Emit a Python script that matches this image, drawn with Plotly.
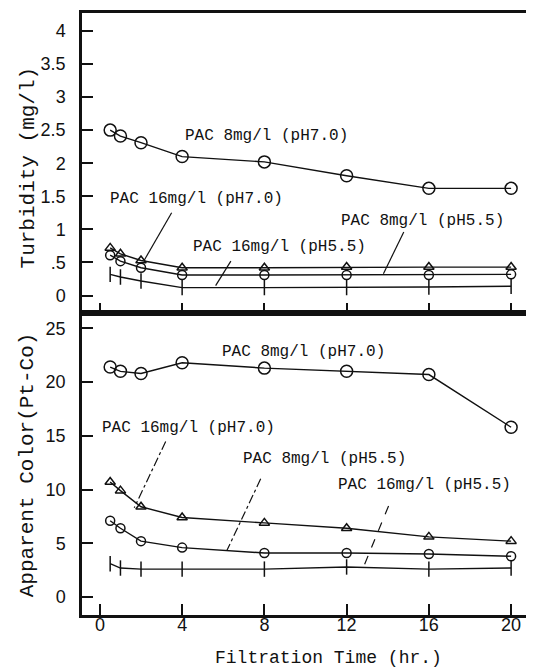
import plotly.graph_objects as go
from plotly.subplots import make_subplots

# ---------------- data ----------------
time_hr = [0.5, 1, 2, 4, 8, 12, 16, 20]

turb_pac8_ph70 = [2.50, 2.41, 2.31, 2.10, 2.02, 1.81, 1.62, 1.62]
turb_pac16_ph70 = [0.72, 0.63, 0.53, 0.42, 0.42, 0.43, 0.43, 0.43]
turb_pac8_ph55 = [0.61, 0.52, 0.42, 0.31, 0.31, 0.31, 0.31, 0.32]
turb_pac16_ph55 = [0.32, 0.28, 0.22, 0.12, 0.12, 0.12, 0.13, 0.14]

color_pac8_ph70 = [21.4, 21.0, 20.8, 21.8, 21.3, 21.0, 20.7, 15.8]
color_pac16_ph70 = [10.7, 9.9, 8.4, 7.4, 6.9, 6.4, 5.6, 5.2]
color_pac8_ph55 = [7.1, 6.4, 5.2, 4.6, 4.1, 4.1, 4.0, 3.8]
color_pac16_ph55 = [3.1, 2.7, 2.6, 2.6, 2.6, 2.8, 2.6, 2.7]

x_ticks = [0, 4, 8, 12, 16, 20]
turb_ticks = [0, 0.5, 1, 1.5, 2, 2.5, 3, 3.5, 4]
turb_ticktext = ["0", ".5", "1", "1.5", "2", "2.5", "3", "3.5", "4"]
color_ticks = [0, 5, 10, 15, 20, 25]

series_names = ["PAC 8mg/l (pH7.0)", "PAC 16mg/l (pH7.0)",
                "PAC 8mg/l (pH5.5)", "PAC 16mg/l (pH5.5)"]

# ---------------- figure ----------------
# page body has an 8px default margin, so the figure is drawn 8px smaller
W, H = 526, 660
fig = make_subplots(rows=2, cols=1, shared_xaxes=True, vertical_spacing=0,
                    row_heights=[0.499, 0.501])

INK = "#111111"
MONO = "Liberation Mono, DejaVu Sans Mono, monospace"
NARROW = "Liberation Sans Narrow, Liberation Sans, Arial, sans-serif"

styles = [
    dict(symbol="circle-open", size=12),
    dict(symbol="triangle-up-open", size=9),
    dict(symbol="circle-open", size=9),
    dict(symbol="line-ns-open", size=11),
]

top = [turb_pac8_ph70, turb_pac16_ph70, turb_pac8_ph55, turb_pac16_ph55]
bot = [color_pac8_ph70, color_pac16_ph70, color_pac8_ph55, color_pac16_ph55]

for row, group in ((1, top), (2, bot)):
    for i, ys in enumerate(group):
        fig.add_trace(go.Scatter(x=time_hr, y=ys, mode="lines+markers", name=series_names[i],
                                 line=dict(color=INK, width=1.4),
                                 marker=dict(color=INK, line=dict(color=INK, width=1.5), **styles[i]),
                                 showlegend=False), row=row, col=1)

axis_common = dict(showline=True, linecolor=INK, linewidth=2.5, mirror=True,
                   ticks="inside", ticklen=11, tickwidth=1.5, tickcolor=INK,
                   showgrid=False, zeroline=False,
                   tickfont=dict(family=NARROW, size=18, color=INK))

fig.update_xaxes(range=[-0.87, 20.87], tickvals=x_ticks, **axis_common)
fig.update_xaxes(showticklabels=False, row=1, col=1)
fig.update_xaxes(ticklabelstandoff=-8, row=2, col=1)

fig.update_yaxes(range=[-0.27, 4.27], tickvals=turb_ticks, ticktext=turb_ticktext,
                 ticklabelstandoff=10, row=1, col=1, **axis_common)
fig.update_yaxes(range=[-1.67, 26.39], tickvals=color_ticks,
                 ticklabelstandoff=10, row=2, col=1, **axis_common)

ann_font = dict(family=MONO, size=16, color=INK)
labels_top = [
    (series_names[0], 8.1, 2.41),
    (series_names[1], 4.72, 1.46),
    (series_names[2], 15.69, 1.12),
    (series_names[3], 8.72, 0.73),
]
for txt, x, y in labels_top:
    fig.add_annotation(text=txt, x=x, y=y, xref="x", yref="y", showarrow=False, font=ann_font)

labels_bot = [
    (series_names[0], 9.92, 22.77),
    (series_names[1], 4.31, 15.73),
    (series_names[2], 10.92, 12.83),
    (series_names[3], 15.8, 10.43),
]
for txt, x, y in labels_bot:
    fig.add_annotation(text=txt, x=x, y=y, xref="x2", yref="y2", showarrow=False, font=ann_font)

# leader lines
leaders_top = [((3.49, 1.25), (2.15, 0.53)),
               ((6.37, 0.52), (5.63, 0.15)),
               ((14.78, 0.96), (13.79, 0.33))]
for (x0, y0), (x1, y1) in leaders_top:
    fig.add_shape(type="line", x0=x0, y0=y0, x1=x1, y1=y1, xref="x", yref="y",
                  line=dict(color=INK, width=1.2))
leaders_bot = [((3.2, 14.47), (1.67, 8.3), "dashdot"),
               ((7.82, 11.0), (6.17, 4.3), "dashdot"),
               ((14.04, 8.48), (12.8, 2.7), "dash")]
for (x0, y0), (x1, y1), d in leaders_bot:
    fig.add_shape(type="line", x0=x0, y0=y0, x1=x1, y1=y1, xref="x2", yref="y2",
                  line=dict(color=INK, width=1.2, dash=d))

# axis titles as annotations
fig.add_annotation(text="Turbidity (mg/l)", x=-0.12, y=0.487, xref="paper", yref="y domain",
                   xanchor="center", yanchor="middle", textangle=-90, showarrow=False,
                   font=dict(family=MONO, size=21, color=INK))
fig.add_annotation(text="Apparent Color(Pt-Co)", x=-0.122, y=0.498, xref="paper", yref="y2 domain",
                   xanchor="center", yanchor="middle", textangle=-90, showarrow=False,
                   font=dict(family=MONO, size=21, color=INK))
fig.add_annotation(text="Filtration Time (hr.)", x=0.552, y=-0.071, xref="paper", yref="paper",
                   xanchor="center", yanchor="middle", showarrow=False,
                   font=dict(family=MONO, size=18, color=INK))

fig.update_layout(width=W, height=H, margin=dict(l=74, r=3, t=2, b=53),
                  plot_bgcolor="white", paper_bgcolor="white")

fig.write_html("out.html")
